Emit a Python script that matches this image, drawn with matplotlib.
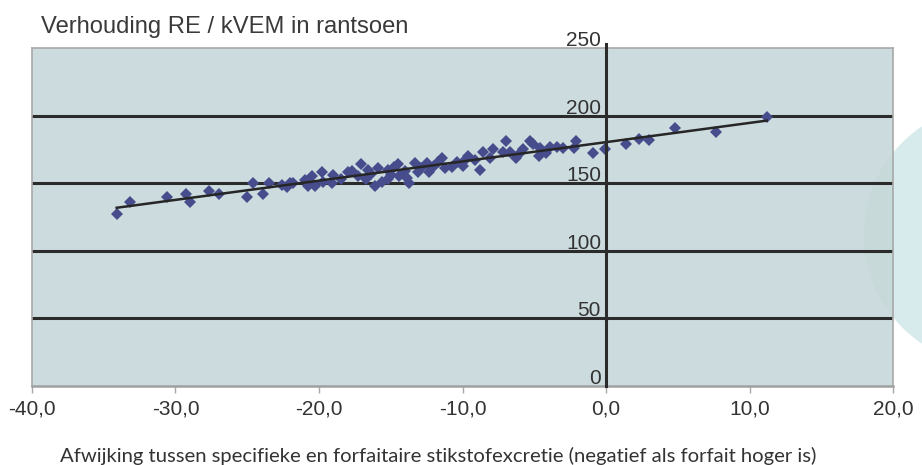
import matplotlib
matplotlib.use('Agg')
import matplotlib.pyplot as plt
import numpy as np
from matplotlib.patches import Circle
from matplotlib.transforms import ScaledTranslation

plt.rcParams['font.family'] = ['Liberation Sans', 'DejaVu Sans']

# ---- data ----
x_vals = [-34.1, -33.2, -30.6, -29.3, -29.0, -27.7, -27.0, -25.0, -24.6, -23.9,
          -23.5, -22.6, -22.2, -22.0, -21.8, -21.0, -20.8, -20.5, -20.3, -19.8,
          -19.7, -19.1, -19.0, -18.5, -18.0, -17.7, -17.3, -17.1, -16.7, -16.6,
          -16.4, -16.1, -15.9, -15.6, -15.2, -15.2, -15.0, -14.8, -14.5, -14.4,
          -14.0, -13.9, -13.7, -13.3, -13.1, -12.9, -12.5, -12.3, -12.0, -11.7,
          -11.4, -11.2, -10.7, -10.4, -10.0, -9.8, -9.6, -9.1, -8.8, -8.6,
          -8.1, -7.9, -7.2, -7.0, -6.7, -6.3, -6.0, -5.8, -5.3, -5.1,
          -4.7, -4.6, -4.2, -3.9, -3.4, -3.0, -2.2, -2.1, -0.9, -0.1,
          1.4, 2.3, 3.0, 4.8, 7.7, 11.2]
y_vals = [127, 136, 140, 142, 136, 144, 142, 140, 150, 142,
          150, 149, 147, 150, 150, 152, 148, 155, 148, 158,
          151, 150, 156, 153, 158, 159, 155, 164, 153, 160,
          157, 148, 161, 151, 160, 153, 156, 162, 164, 155,
          159, 154, 150, 165, 158, 161, 165, 158, 163, 166,
          169, 161, 162, 166, 163, 167, 170, 167, 160, 173,
          169, 175, 173, 181, 173, 169, 172, 175, 181, 179,
          170, 176, 172, 177, 177, 176, 176, 181, 172, 175,
          179, 183, 182, 191, 188, 199]

x_ticks = [-40, -30, -20, -10, 0, 10, 20]
x_tick_labels = ['-40,0', '-30,0', '-20,0', '-10,0', '0,0', '10,0', '20,0']
y_ticks = [0, 50, 100, 150, 200, 250]
y_tick_labels = ['0', '50', '100', '150', '200', '250']
grid_values = [50, 100, 150, 200]

title = 'Verhouding RE / kVEM in rantsoen'
x_label = 'Afwijking tussen specifieke en forfaitaire stikstofexcretie (negatief als forfait hoger is)'

# ---- figure ----
W, H = 922, 465
fig = plt.figure(figsize=(W / 100, H / 100), dpi=100)
fig.patch.set_facecolor('white')

# decorative page blob on the right
blob = Circle((9.95, 2.30), 1.31, transform=fig.dpi_scale_trans,
              facecolor='#d8ebec', edgecolor='none', zorder=-1)
fig.add_artist(blob)

ax = fig.add_axes([32 / W, (H - 386) / H, 861 / W, 338 / H])
ax.set_facecolor('#ccdbde')

blob_in = Circle((9.95, 2.30), 1.31, transform=fig.dpi_scale_trans,
                 facecolor='#c8d9da', edgecolor='none', zorder=0.5)
ax.add_patch(blob_in)

ax.set_xlim(-40, 20)
ax.set_ylim(0, 250)

for s in ['top', 'right', 'left']:
    ax.spines[s].set_color('#a8a8a8')
    ax.spines[s].set_linewidth(1.2)
ax.spines['bottom'].set_color('#a0a0a0')
ax.spines['bottom'].set_linewidth(1.8)

ax.set_xticks(x_ticks)
ax.set_xticklabels(x_tick_labels)
ax.tick_params(axis='x', length=5, width=1, color='#a8a8a8', pad=5,
               labelsize=15, labelcolor='#333333')
ax.set_yticks([])

for v in grid_values:
    ax.axhline(v, color='#2b2b2b', lw=2.2, zorder=1)

ax.axvline(0, ymin=0, ymax=1.012, color='#2b2b2b', lw=2.2, clip_on=False, zorder=4)

off = ScaledTranslation(-5 / 100, 2 / 100, fig.dpi_scale_trans)
for v, lab in zip(y_ticks, y_tick_labels):
    ax.text(0, v, lab, transform=ax.transData + off, ha='right', va='baseline',
            fontsize=15, color='#333333', zorder=5)

ax.plot(x_vals, y_vals, 'D', ms=6.5, color='#474d8c', mew=0, zorder=3)

coef = np.polyfit(x_vals, y_vals, 1)
xs = np.array([min(x_vals), max(x_vals)])
ax.plot(xs, np.polyval(coef, xs), color='#262626', lw=1.8, zorder=3.5)

t_title = fig.text(41 / W, 1 - 33 / H, title, fontsize=15.5, color='#3a3a3a',
                   va='baseline', ha='left')
t_xl = fig.text(438 / W, 3 / H, x_label, fontsize=14, color='#333333',
                va='baseline', ha='center', family=['Lato', 'DejaVu Sans'])

fig.canvas.draw()
r = fig.canvas.get_renderer()
for t, target in [(t_title, 366), (t_xl, 759)]:
    w = t.get_window_extent(r).width
    t.set_fontsize(t.get_fontsize() * target / w)

fig.savefig('out.png', dpi=100, facecolor='white')
